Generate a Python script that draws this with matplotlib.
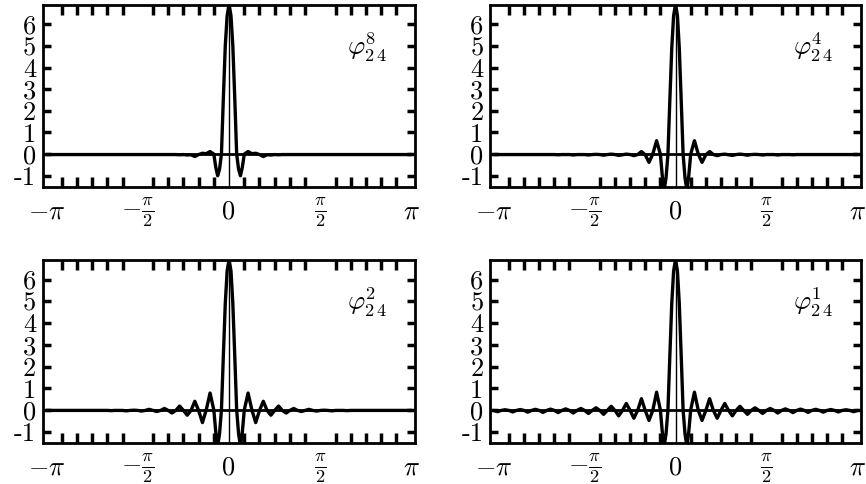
import matplotlib

matplotlib.use("Agg")
import matplotlib.pyplot as plt
import numpy as np

plt.rcParams["font.family"] = "serif"
plt.rcParams["font.serif"] = ["cmr10", "DejaVu Serif"]
plt.rcParams["mathtext.fontset"] = "cm"
plt.rcParams["axes.unicode_minus"] = False

# one-sided sample positions (rad), the curves are mirror-symmetric about 0
X_HALF = [0.000, 0.033, 0.065, 0.098, 0.131, 0.164, 0.196, 0.229, 0.262,
          0.327, 0.393, 0.458, 0.524, 0.589, 0.654, 0.720, 0.785, 0.851,
          0.916, 0.982, 1.047, 1.112, 1.178, 1.243, 1.309, 1.374, 1.440,
          1.505, 1.571, 1.636, 1.702, 1.767, 1.833, 1.898, 1.963, 2.029,
          2.094, 2.160, 2.225, 2.291, 2.356, 2.422, 2.487, 2.553, 2.618,
          2.683, 2.749, 2.814, 2.880, 2.945, 3.011, 3.076, 3.142]

PHI_8 = [6.93, 6.40, 5.00, 2.60, 0.00, -0.70, -1.00, -0.60, 0.00,
         0.12, 0.02, 0.04, -0.02, -0.11, -0.03, -0.04, -0.02, -0.03,
         -0.02, -0.02, -0.02, -0.02, -0.02, -0.02, -0.02, -0.02, -0.02,
         -0.02, -0.02, -0.02, -0.02, -0.02, -0.02, -0.02, -0.02, -0.02,
         -0.02, -0.02, -0.02, -0.02, -0.02, -0.02, -0.02, -0.02, -0.02,
         -0.02, -0.02, -0.02, -0.02, -0.02, -0.02, -0.02, -0.02]

PHI_4 = [6.93, 6.40, 4.90, 2.50, 0.00, -1.10, -1.65, -1.00, 0.00,
         0.62, 0.00, -0.38, -0.03, 0.12, -0.02, -0.07, -0.02, 0.00,
         -0.03, -0.06, -0.02, 0.00, -0.02, -0.05, -0.02, -0.01, -0.02,
         -0.04, -0.02, -0.02, -0.02, -0.04, -0.02, -0.02, -0.02, -0.03,
         -0.02, -0.02, -0.02, -0.02, -0.02, -0.02, -0.02, -0.02, -0.02,
         -0.02, -0.02, -0.02, -0.02, -0.02, -0.02, -0.02, -0.02]

PHI_2 = [6.93, 6.40, 4.90, 2.50, 0.00, -1.10, -1.65, -1.00, 0.00,
         0.78, 0.00, -0.58, -0.02, 0.40, -0.02, -0.24, -0.02, 0.18,
         -0.02, -0.14, -0.02, 0.07, -0.02, -0.07, -0.02, 0.03, -0.02,
         -0.05, -0.02, -0.01, -0.02, -0.04, -0.02, -0.02, -0.02, -0.03,
         -0.02, -0.02, -0.02, -0.02, -0.02, -0.02, -0.02, -0.02, -0.02,
         -0.02, -0.02, -0.02, -0.02, -0.02, -0.02, -0.02, -0.02]

PHI_1 = [6.93, 6.40, 4.90, 2.50, 0.00, -1.10, -1.65, -1.00, 0.00,
         0.82, -0.02, -0.48, -0.02, 0.52, -0.02, -0.38, -0.02, 0.30,
         -0.02, -0.27, -0.02, 0.17, -0.02, -0.20, -0.02, 0.10, -0.02,
         -0.16, -0.02, 0.07, -0.02, -0.14, -0.02, 0.05, -0.02, -0.12,
         -0.02, 0.04, -0.02, -0.11, -0.02, 0.03, -0.02, -0.10, -0.02,
         0.02, -0.02, -0.09, -0.02, 0.01, -0.02, -0.08, -0.02]

PANELS = [("8", PHI_8), ("4", PHI_4), ("2", PHI_2), ("1", PHI_1)]

Y_TICKS = [-1, 0, 1, 2, 3, 4, 5, 6]
X_LABELS = [r"$-\pi$", r"$-\frac{\pi}{2}$", "0", r"$\frac{\pi}{2}$", r"$\pi$"]

# axes boxes in figure fractions (left, bottom, width, height)
BOXES = [
    (0.0497, 0.6136, 0.4296, 0.3760),
    (0.5662, 0.6136, 0.4277, 0.3760),
    (0.0497, 0.0847, 0.4296, 0.3775),
    (0.5662, 0.0847, 0.4277, 0.3775),
]


def mirrored(xh, yh):
    xh = np.asarray(xh)
    yh = np.asarray(yh)
    x = np.concatenate([-xh[:0:-1], xh])
    y = np.concatenate([yh[:0:-1], yh])
    return x, y


def main():
    fig = plt.figure(figsize=(8.66, 4.84), dpi=100)

    for box, (j, vals) in zip(BOXES, PANELS):
        ax = fig.add_axes(box)
        x, y = mirrored(X_HALF, vals)
        ax.axhline(0, color="k", lw=2.0, zorder=1)
        ax.axvline(0, color="k", lw=1.0, zorder=1)
        ax.plot(x, y, color="k", lw=2.4, solid_joinstyle="round",
                solid_capstyle="round", zorder=2)

        ax.set_xlim(-3.2, 3.2)
        ax.set_ylim(-1.52, 6.89)

        ax.set_xticks([-np.pi, -np.pi / 2, 0, np.pi / 2, np.pi])
        ax.set_xticklabels(X_LABELS, fontsize=19)
        ax.set_xticks([k * np.pi / 12 for k in range(-11, 12)], minor=True)
        ax.tick_params(axis="x", which="major", length=0, pad=18)
        ax.tick_params(axis="x", which="minor", direction="in", length=7.2,
                       width=2.5, top=True, bottom=True)
        for lab in ax.get_xticklabels():
            lab.set_verticalalignment("center")

        ax.set_yticks(Y_TICKS)
        ax.set_yticklabels([str(v) for v in Y_TICKS], fontsize=19)
        ax.tick_params(axis="y", direction="in", length=5.6, width=2.5,
                       left=True, right=True, pad=5)

        for sp in ax.spines.values():
            sp.set_linewidth(2.0)

        ax.text(2.03, 4.95, r"$\varphi^{%s}_{2\,4}$" % j, fontsize=19,
                ha="left", va="center")

    fig.savefig("out.png", dpi=100)
    plt.close(fig)


if __name__ == "__main__":
    main()
